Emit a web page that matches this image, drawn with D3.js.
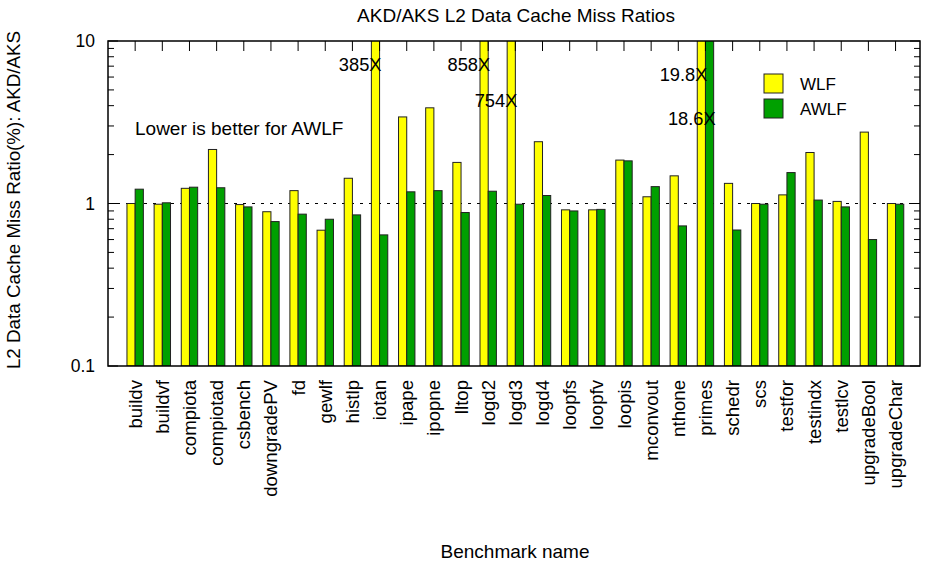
<!DOCTYPE html>
<html>
<head>
<meta charset="utf-8">
<script src="https://cdn.jsdelivr.net/npm/d3@7"></script>
<style>
  body { margin: 0; background: #fff; }
  svg { font-family: "Liberation Sans", Arial, Helvetica, sans-serif; }
</style>
</head>
<body>
<svg class="chart" width="926" height="564"></svg>
<script>
const benchmarks = ["buildv", "buildvf", "compiota", "compiotad", "csbench", "downgradePV", "fd", "gewlf",
    "histlp", "iotan", "ipape", "ipopne", "lltop", "logd2", "logd3", "logd4", "loopfs", "loopfv", "loopis",
    "mconvout", "nthone", "primes", "schedr", "scs", "testfor", "testindx", "testlcv", "upgradeBool", "upgradeChar"];
const wlf = [1.0, 0.99, 1.24, 2.15, 0.985, 0.89, 1.2, 0.685, 1.43, 385, 3.41, 3.88, 1.79, 858, 754, 2.4, 0.914,
    0.914, 1.85, 1.1, 1.48, 19.8, 1.33, 1.0, 1.13, 2.06, 1.03, 2.75, 1.0];
const awlf = [1.225, 1.01, 1.26, 1.25, 0.953, 0.774, 0.86, 0.80, 0.851, 0.641, 1.18, 1.2, 0.88, 1.19, 0.99,
    1.12, 0.90, 0.92, 1.83, 1.27, 0.728, 18.6, 0.687, 0.99, 1.55, 1.05, 0.953, 0.60, 0.99];
const seriesNames = ["WLF", "AWLF"];
const yTicks = [0.1, 1, 10];

(function barChart() {
    let svg = d3.select("svg.chart");
    let left = 108, right = 920, top = 41, bottom = 366;
    let barW = 8.2;
    let colors = ["#ffff00", "#00a000"];
    let series = [wlf, awlf];

    let x = d3.scaleLinear().domain([-1, 28.9]).range([left, right]);
    let y = d3.scaleLog().domain([0.1, 10]).range([bottom, top]);

    svg.append("clipPath").attr("id", "plot")
        .append("rect").attr("x", left).attr("y", top)
        .attr("width", right - left).attr("height", bottom - top);

    // reference line at 1
    svg.append("line")
        .attr("x1", left).attr("x2", right)
        .attr("y1", y(1)).attr("y2", y(1))
        .attr("stroke", "#000").attr("stroke-dasharray", "3,6");

    // bars
    let g = svg.append("g").attr("clip-path", "url(#plot)");
    series.forEach(function(vals, s) {
        g.selectAll(".bar" + s)
            .data(vals)
            .enter()
            .append("rect")
            .attr("x", function(d, i) { return x(i) - barW + s * barW; })
            .attr("y", function(d) { return y(Math.min(d, 20)); })
            .attr("width", barW)
            .attr("height", function(d) { return bottom - y(Math.min(d, 20)); })
            .style("fill", colors[s])
            .style("stroke", "#222")
            .style("stroke-width", 1);
    });

    // labels for bars that go off the top
    let offTop = [
        {i: 9, s: 0, at: 7.2},
        {i: 13, s: 0, at: 7.2},
        {i: 14, s: 0, at: 4.3},
        {i: 21, s: 0, at: 6.2},
        {i: 21, s: 1, at: 3.35}
    ];
    svg.selectAll(".over")
        .data(offTop)
        .enter()
        .append("text")
        .attr("x", function(d) { return x(d.i) + d.s * barW + 2; })
        .attr("y", function(d) { return y(d.at); })
        .attr("dy", "0.35em")
        .attr("text-anchor", "end")
        .style("font-size", "18.3px")
        .text(function(d) { return series[d.s][d.i] + "X"; });

    // frame
    svg.append("rect")
        .attr("x", left).attr("y", top)
        .attr("width", right - left).attr("height", bottom - top)
        .attr("fill", "none").attr("stroke", "#000").attr("stroke-width", 1.5);

    // x ticks along top
    svg.selectAll(".xt")
        .data(benchmarks)
        .enter()
        .append("line")
        .attr("x1", function(d, i) { return x(i); })
        .attr("x2", function(d, i) { return x(i); })
        .attr("y1", top).attr("y2", top + 10)
        .attr("stroke", "#000");

    // x labels
    svg.selectAll(".xl")
        .data(benchmarks)
        .enter()
        .append("text")
        .attr("transform", function(d, i) { return "translate(" + x(i) + "," + (bottom + 14) + ") rotate(-90)"; })
        .attr("dy", "0.35em")
        .attr("text-anchor", "end")
        .style("font-size", "18.6px")
        .text(function(d) { return d; });

    // y ticks, major and minor, on both sides
    let minor = [];
    [0.1, 1].forEach(function(b) { for (let k = 2; k <= 9; k++) minor.push(b * k); });
    [[left, 1], [right, -1]].forEach(function(side) {
        svg.append("g").selectAll("line")
            .data(yTicks.map(function(v) { return {v: v, len: 10}; })
                .concat(minor.map(function(v) { return {v: v, len: 6}; })))
            .enter()
            .append("line")
            .attr("x1", side[0])
            .attr("x2", function(d) { return side[0] + side[1] * d.len; })
            .attr("y1", function(d) { return y(d.v); })
            .attr("y2", function(d) { return y(d.v); })
            .attr("stroke", "#000");
    });
    svg.selectAll(".yl")
        .data(yTicks)
        .enter()
        .append("text")
        .attr("x", left - 13)
        .attr("y", function(d) { return y(d); })
        .attr("dy", "0.35em")
        .attr("text-anchor", "end")
        .style("font-size", "17.5px")
        .text(function(d) { return d; });

    // titles
    svg.append("text").attr("x", 516).attr("y", 22)
        .attr("text-anchor", "middle").style("font-size", "19px")
        .text("AKD/AKS L2 Data Cache Miss Ratios");
    svg.append("text").attr("x", 515).attr("y", 558)
        .attr("text-anchor", "middle").style("font-size", "19px")
        .text("Benchmark name");
    svg.append("text")
        .attr("transform", "translate(20,200) rotate(-90)")
        .attr("text-anchor", "middle").style("font-size", "18.8px")
        .text("L2 Data Cache Miss Ratio(%): AKD/AKS");
    svg.append("text").attr("x", 135).attr("y", 135)
        .style("font-size", "19px")
        .text("Lower is better for AWLF");

    // legend
    let legend = svg.append("g").selectAll("g")
        .data(seriesNames)
        .enter()
        .append("g")
        .attr("transform", function(d, i) { return "translate(764," + (74 + i * 25) + ")"; });
    legend.append("rect")
        .attr("width", 19).attr("height", 19)
        .style("fill", function(d, i) { return colors[i]; })
        .style("stroke", "#222");
    legend.append("text")
        .attr("x", 36).attr("y", 10).attr("dy", "0.35em")
        .style("font-size", "17px")
        .text(function(d) { return d; });
})();
</script>
</body>
</html>
